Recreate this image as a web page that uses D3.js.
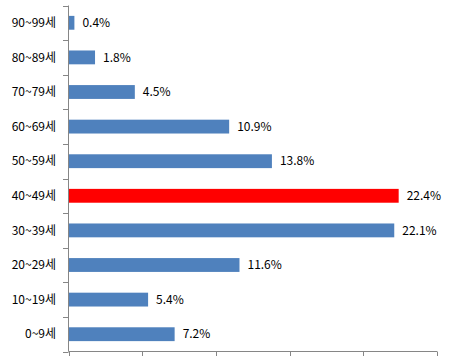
<!DOCTYPE html>
<html><head><meta charset="utf-8">
<script src="https://cdn.jsdelivr.net/npm/d3@7"></script>
<style>body{margin:0;background:#fff}svg{display:block}</style>
</head><body>
<script>
const categories = ["90~99세","80~89세","70~79세","60~69세","50~59세","40~49세","30~39세","20~29세","10~19세","0~9세"];
const values = [0.4,1.8,4.5,10.9,13.8,22.4,22.1,11.6,5.4,7.2];
const highlight = ["40~49세"];
const xTicks = [0,5,10,15,20,25];

const W=458,H=362;
const svg=d3.select("body").append("svg").attr("width",W).attr("height",H);
const x=d3.scaleLinear().domain([0,25]).range([68.5,437]);
const y=d3.scaleBand().domain(categories).range([5.5,351.5]).paddingInner(0.6).paddingOuter(0.3);
const yb=d3.scaleBand().domain(categories).range([5.5,351.5]);
const font="'Noto Sans CJK KR','Malgun Gothic',sans-serif";
const axisColor="#868686";

svg.selectAll("rect.bar").data(categories).enter().append("rect")
 .attr("x",x(0)).attr("y",d=>y(d)).attr("height",y.bandwidth())
 .attr("width",(d,i)=>x(values[i])-x(0))
 .attr("fill",d=>highlight.includes(d)?"#FF0000":"#4F81BD");

// y axis
svg.append("line").attr("x1",68.5).attr("x2",68.5).attr("y1",5.5).attr("y2",351.5).attr("stroke",axisColor);
const bounds=categories.map(c=>yb(c)).concat([351.5]);
svg.selectAll("line.yt").data(bounds).enter().append("line")
 .attr("x1",63).attr("x2",68.5).attr("y1",d=>Math.round(d)+0.5).attr("y2",d=>Math.round(d)+0.5).attr("stroke",axisColor);
// x axis
svg.append("line").attr("x1",68.5).attr("x2",437).attr("y1",351.5).attr("y2",351.5).attr("stroke",axisColor);
svg.selectAll("line.xt").data(xTicks).enter().append("line")
 .attr("x1",d=>Math.round(x(d))+0.5).attr("x2",d=>Math.round(x(d))+0.5).attr("y1",351.5).attr("y2",356).attr("stroke",axisColor);

svg.selectAll("text.cat").data(categories).enter().append("text")
 .attr("x",56).attr("y",d=>yb(d)+yb.bandwidth()/2).attr("dy","0.35em")
 .attr("text-anchor","end").attr("font-family",font).attr("font-size",12).attr("fill","#000").text(d=>d);

svg.selectAll("text.val").data(categories).enter().append("text")
 .attr("x",(d,i)=>x(values[i])+8).attr("y",d=>y(d)+y.bandwidth()/2).attr("dy","0.35em")
 .attr("font-family",font).attr("font-size",12).attr("fill","#000").text((d,i)=>values[i].toFixed(1)+"%");
</script>
</body></html>
